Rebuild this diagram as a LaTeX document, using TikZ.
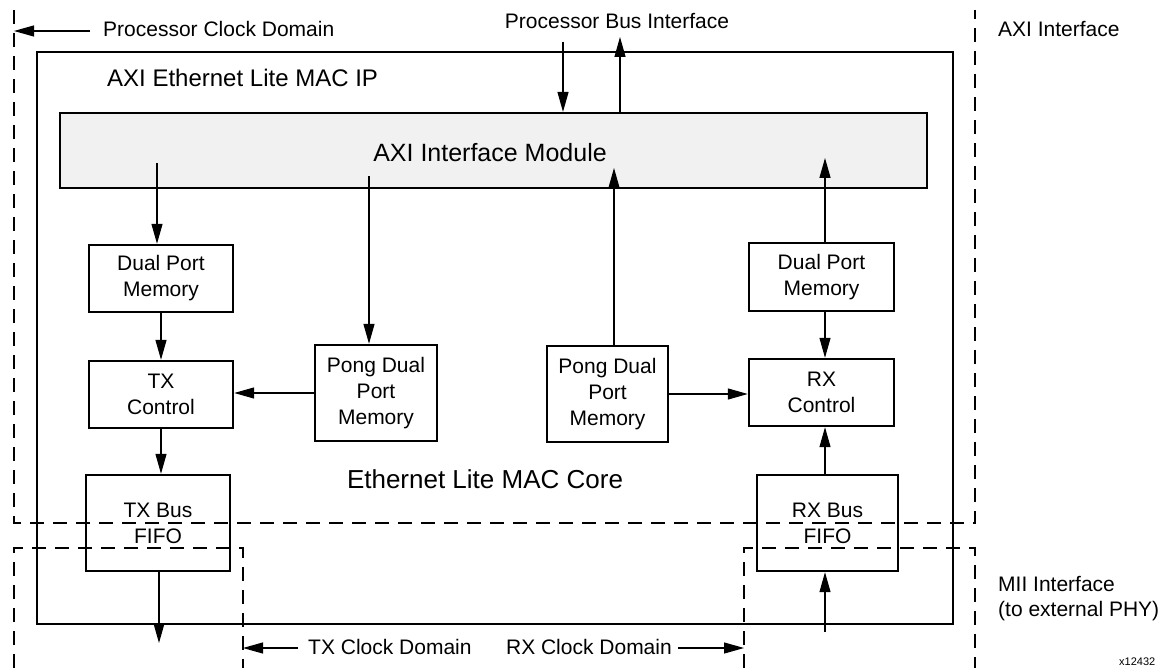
\documentclass[tikz,border=0pt]{standalone}
\usepackage{fontspec}
\setmainfont{Liberation Sans}
\usetikzlibrary{arrows.meta,calc}
\begin{document}
\begin{tikzpicture}[x=1pt,y=-1pt,
  blk/.style={draw,line width=2.4pt,fill=white,inner sep=0pt,align=center,font=\fontsize{21}{26}\selectfont},
  ipbox/.style={draw,line width=2.6pt,inner sep=0pt},
  axibox/.style={draw,line width=2.2pt,fill=axigray,inner sep=0pt},
  conn/.style={line width=1.2pt,-{Triangle[length=20pt,width=11pt]}},
  dom/.style={line width=2.5pt,dash pattern=on 14pt off 9pt},
  lbl/.style={inner sep=0pt,font=\fontsize{21}{26}\selectfont},
]
\definecolor{axigray}{HTML}{F1F1F1}
\useasboundingbox (0,0) rectangle (1167,668);
\fill[white] (0,0) rectangle (1167,668);

% outer IP box
\node[ipbox,minimum width=916pt,minimum height=572pt] (ip) at (495,338) {};
\node[lbl,anchor=west,font=\fontsize{24}{28}\selectfont] (iplbl) at (107,78) {AXI Ethernet Lite MAC IP};

% AXI interface module
\node[axibox,minimum width=867pt,minimum height=75pt] (axi) at (493.5,150.5) {};
\node[lbl,font=\fontsize{25}{30}\selectfont] (axilbl) at (490,153) {AXI Interface Module};

% blocks
\node[blk,minimum width=144pt,minimum height=67pt] (dpL) at (161,278.5) {Dual Port\\Memory};
\node[blk,minimum width=144pt,minimum height=67pt] (txc) at (161,394.5) {TX\\Control};
\node[blk,minimum width=122pt,minimum height=96pt] (pongL) at (376,393) {Pong Dual\\Port\\Memory};
\node[blk,minimum width=144pt,minimum height=96pt] (txf) at (158,523) {TX Bus\\FIFO};

\node[blk,minimum width=145pt,minimum height=68pt] (dpR) at (821.5,277) {Dual Port\\Memory};
\node[blk,minimum width=145pt,minimum height=67pt] (rxc) at (821.5,392.5) {RX\\Control};
\node[blk,minimum width=121pt,minimum height=96pt] (pongR) at (607.5,394) {Pong Dual\\Port\\Memory};
\node[blk,minimum width=141pt,minimum height=96pt] (rxf) at (827.5,523) {RX Bus\\FIFO};

\node[lbl,font=\fontsize{26}{30}\selectfont] (corelbl) at (485,479) {Ethernet Lite MAC Core};

% free ends
\coordinate (busin) at (563,42);
\coordinate (busout) at (620,37);
\coordinate (a1) at (157,163);
\coordinate (a2) at (369,176);
\coordinate (a3) at (614,168);
\coordinate (a4) at (825,158);
\coordinate (txout) at (159,643);
\coordinate (rxin) at (825,632);

% connectors
\draw[conn] (busin) -- (busin |- axi.north);
\draw[conn] (busout |- axi.north) -- (busout);
\draw[conn] (a1) -- (a1 |- dpL.north);
\draw[conn] (dpL.south) -- (txc.north);
\draw[conn] (txc.south) -- (txc.south |- txf.north);
\draw[conn] (txf.south -| txout) -- (txout);
\draw[conn] (a2) -- (a2 |- pongL.north);
\draw[conn] (pongL.west) -- (pongL.west -| txc.east);
\draw[conn] (a3 |- pongR.north) -- (a3);
\draw[conn] (pongR.east) -- (pongR.east -| rxc.west);
\draw[conn] (a4 |- dpR.north) -- (a4);
\draw[conn] (a4 |- dpR.south) -- (a4 |- rxc.north);
\draw[conn] (a4 |- rxf.north) -- (a4 |- rxc.south);
\draw[conn] (rxin) -- (rxin |- rxf.south);

% clock domains
\draw[dom] (14,10) -- (14,523) -- (975,523) -- (975,10);
\draw[dom] (14,668) -- (14,548) -- (243,548) -- (243,668);
\draw[dom] (744,668) -- (744,548) -- (975,548) -- (975,668);

% domain labels and arrows
\node[lbl,anchor=west] (pcd) at (103,29) {Processor Clock Domain};
\coordinate (pcdtip) at (14,31);
\draw[conn] (pcd.west |- pcdtip) ++(-13,0) -- (pcdtip);
\node[lbl] (pbi) at (617,21) {Processor Bus Interface};
\node[lbl,anchor=west] (axiif) at (998,29) {AXI Interface};
\node[lbl,anchor=west] (mii1) at (998,584) {MII Interface};
\node[lbl,anchor=west] (mii2) at (998,611) {(to external PHY)};
\node[lbl,anchor=west] (txcd) at (308,647) {TX Clock Domain};
\node[lbl,anchor=east] (rxcd) at (672,647) {RX Clock Domain};
\coordinate (txtip) at (243,648);
\coordinate (rxtip) at (744,648);
\draw[conn] (txcd.west |- txtip) ++(-10,0) -- (txtip);
\draw[conn] (rxcd.east |- rxtip) ++(6,0) -- (rxtip);
\node[inner sep=0pt,anchor=base west,font=\fontsize{11}{13}\selectfont] (fig) at (1119,665) {x12432};
\end{tikzpicture}
\end{document}
